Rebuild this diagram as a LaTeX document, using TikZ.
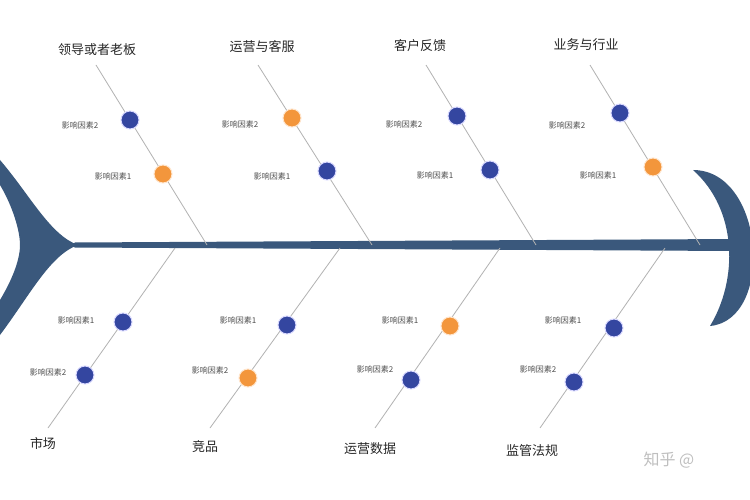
\documentclass[tikz,border=0pt]{standalone}
\usepackage{fontspec}
\newfontfamily\cjk{Noto Sans CJK SC}
\begin{document}
\begin{tikzpicture}[x=1pt,y=-1pt,
  bone/.style={draw=gray!60,line width=0.8pt},
  bdot/.style={circle,fill={rgb,255:red,52;green,70;blue,160},draw=white!85!blue,line width=1pt,minimum size=18pt,inner sep=0pt},
  odot/.style={circle,fill={rgb,255:red,243;green,150;blue,60},draw=white!80!orange,line width=1pt,minimum size=18pt,inner sep=0pt},
  small/.style={font=\cjk\fontsize{8}{9}\selectfont,text=black!70},
  big/.style={font=\cjk\fontsize{13}{15}\selectfont,text=black!85}]
\definecolor{fish}{RGB}{58,88,124}
\fill[white] (0,0) rectangle (750,500);
\useasboundingbox (0,0) rectangle (750,500);
% spine
\fill[fish] (70,245) -- (75,242.5) -- (735,239) -- (735,251) -- (75,247.5) -- cycle;
% tail
\fill[fish] (0,160) .. controls (30,195) and (50,235) .. (78,245)
  .. controls (50,255) and (30,295) .. (0,335) -- (0,300)
  .. controls (12,280) and (20,260) .. (20,245)
  .. controls (20,230) and (12,205) .. (0,185) -- cycle;
% head
\fill[fish] (693,170) .. controls (765,170) and (775,320) .. (710,326)
  .. controls (738,280) and (738,210) .. cycle;
% upper bones
\foreach \n/\tx/\sx in {a/96/207,b/258/372,c/426/536,d/590/700}{
  \coordinate (t\n) at (\tx,65); \coordinate (s\n) at (\sx,245);
  \draw[bone] (t\n) -- (s\n);}
% lower bones
\foreach \n/\bx/\sx in {e/48/175,f/210/340,g/375/500,h/540/665}{
  \coordinate (t\n) at (\bx,428); \coordinate (s\n) at (\sx,248);
  \draw[bone] (s\n) -- (t\n);}
% dots
\node[bdot] (a2) at (130,120) {}; \node[odot] (a1) at (163,174) {};
\node[odot] (b2) at (292,118) {}; \node[bdot] (b1) at (327,171) {};
\node[bdot] (c2) at (457,116) {}; \node[bdot] (c1) at (490,170) {};
\node[bdot] (d2) at (620,113) {}; \node[odot] (d1) at (653,167) {};
\node[bdot] (e1) at (123,322) {}; \node[bdot] (e2) at (85,375) {};
\node[bdot] (f1) at (287,325) {}; \node[odot] (f2) at (248,378) {};
\node[odot] (g1) at (450,326) {}; \node[bdot] (g2) at (411,380) {};
\node[bdot] (h1) at (614,328) {}; \node[bdot] (h2) at (574,382) {};
% small labels
\foreach \n/\x/\y/\t in {la2/80/125/2,la1/113/176/1,lb2/240/124/2,lb1/272/176/1,lc2/404/124/2,lc1/435/175/1,ld2/567/125/2,ld1/598/175/1,
  le1/76/320/1,le2/48/372/2,lf1/238/320/1,lf2/210/370/2,lg1/400/320/1,lg2/375/369/2,lh1/563/320/1,lh2/538/369/2}
  \node[small] (\n) at (\x,\y) {影响因素\t};
% big labels
\node[big] (A) at (97,50) {领导或者老板};
\node[big] (B) at (262,47) {运营与客服};
\node[big] (C) at (420,46) {客户反馈};
\node[big] (D) at (586,45) {业务与行业};
\node[big] (E) at (43,443) {市场};
\node[big] (F) at (205,447) {竞品};
\node[big] (G) at (370,449) {运营数据};
\node[big] (H) at (532,451) {监管法规};
\node[font=\cjk\fontsize{16}{18}\selectfont,text=black!25,anchor=west] (W) at (640,460) {知乎 @};
\end{tikzpicture}
\end{document}
